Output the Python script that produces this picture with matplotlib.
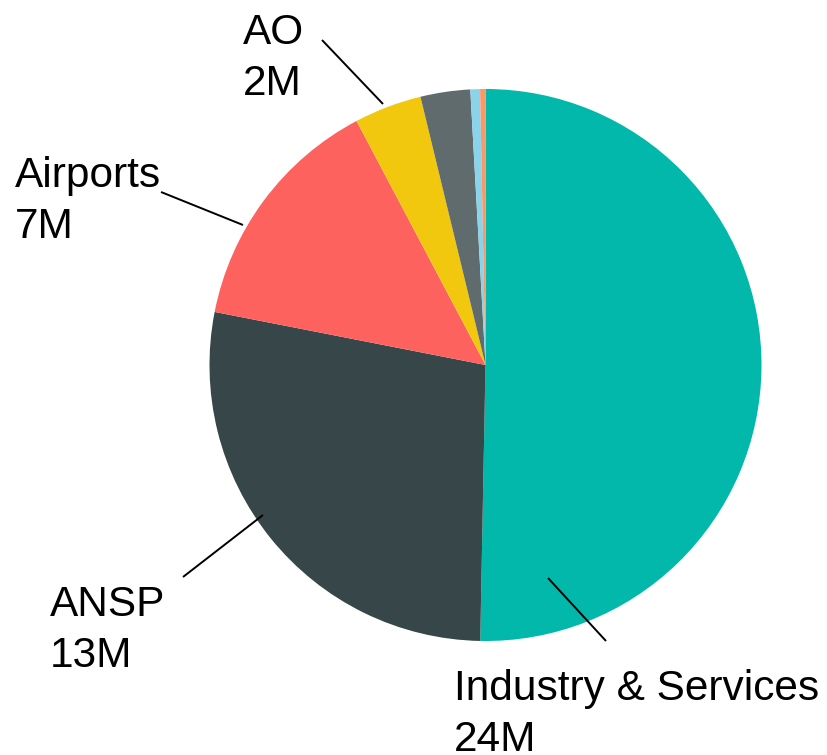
import matplotlib
matplotlib.use('Agg')
import matplotlib.pyplot as plt

plt.rcParams['font.family'] = ['Liberation Sans', 'DejaVu Sans']

# data (millions), clockwise from 12 o'clock
categories = ['Industry & Services', 'ANSP', 'Airports', 'AO', 'Other A', 'Other B', 'Other C']
values = [24.05, 13.28, 6.78, 1.89, 1.39, 0.27, 0.15]
value_labels = ['24M', '13M', '7M', '2M', '', '', '']
colors = ['#01b8aa', '#374649', '#fd625e', '#f2c80f', '#5f6b6d', '#8ad4eb', '#fe9666']

# label layout in pixel coords (x, first baseline) and leader line (start, end)
label_pos = {
    'Industry & Services': ((454, 700), (548, 578), (606, 641)),
    'ANSP': ((50, 616), (263, 515), (183, 577)),
    'Airports': ((15, 187), (243, 225), (161, 192)),
    'AO': ((243, 44), (383, 104), (322, 40)),
}

W, H = 828, 755
fig = plt.figure(figsize=(W / 100, H / 100), dpi=100)
ax = fig.add_axes([0, 0, 1, 1])

# y axis runs downward, so counterclock in data = clockwise on screen
ax.pie(values, colors=colors, startangle=270, counterclock=True,
       center=(485.5, 365), radius=276, wedgeprops=dict(linewidth=0))
ax.set_xlim(0, W)
ax.set_ylim(H, 0)
ax.set_aspect('equal')
ax.axis('off')

for name, vlab in zip(categories, value_labels):
    if name not in label_pos:
        continue
    (tx, ty), p0, p1 = label_pos[name]
    ax.plot([p0[0], p1[0]], [p0[1], p1[1]], color='black', lw=1.4,
            solid_capstyle='butt')
    ax.text(tx, ty, name, fontsize=30.5, ha='left', va='baseline', color='black')
    ax.text(tx, ty + 51, vlab, fontsize=30.5, ha='left', va='baseline', color='black')

fig.savefig('out.png', dpi=100)
